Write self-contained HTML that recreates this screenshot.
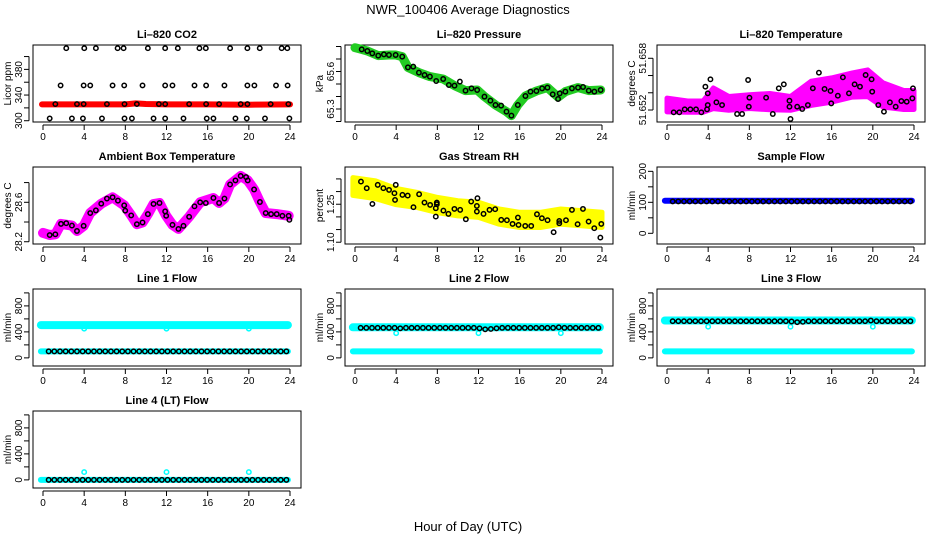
<!DOCTYPE html>
<html><head><meta charset="utf-8"><style>
html,body{margin:0;padding:0;background:#fff}
svg{display:block;font-family:"Liberation Sans",Arial,sans-serif}
</style></head><body>
<svg id="chart" width="936" height="540" viewBox="0 0 936 540" xmlns="http://www.w3.org/2000/svg">
<text x="468" y="14" font-size="13" text-anchor="middle">NWR_100406  Average Diagnostics</text>
<text x="468" y="531" font-size="13" text-anchor="middle">Hour of Day (UTC)</text>
</svg>
<script>
// ---------- data ----------
const xTicks = [0,4,8,12,16,20,24];

const co2Hours = [2.26,4.01,5.14,7.25,7.83,10.19,11.87,13.10,15.20,15.82,18.18,19.86,21.06,23.19,23.74,
 1.71,3.95,4.59,6.76,7.89,9.67,11.87,12.58,14.72,15.85,17.63,19.86,20.54,22.64,23.77,
 1.20,3.30,3.95,6.21,7.92,9.12,11.26,11.87,14.20,15.85,17.11,19.21,19.86,22.12,23.84,
 0.65,2.81,3.88,5.73,7.92,8.64,10.74,11.87,13.65,15.91,16.56,18.70,19.80,21.57,23.94];
const co2Values = [413,413,413,413,413,413,413,413,413,413,413,413,413,413,413,
 355,355,355,355,355,355,355,355,355,355,355,355,355,355,355,
 326,326,326,326,326,326,326,326,326,326,326,326,326,326,326,
 303.6,303.6,303.6,303.6,303.6,303.6,303.6,303.6,303.6,303.6,303.6,303.6,303.6,303.6,303.6];
const co2BandHours = [-0.1,4,8,9,10,12,16,20,24];
const co2BandValues = [325.5,325.5,325.5,327,326,325.5,325.5,325,325.5];

const pressHours = [0.65,1.20,1.68,2.26,2.81,3.30,3.95,4.59,5.14,5.66,6.21,6.76,7.28,7.89,8.57,9.12,9.67,10.19,10.74,11.32,11.87,12.58,13.16,13.65,14.20,14.72,15.20,15.82,16.56,17.05,17.63,18.18,18.70,19.21,19.73,19.89,20.44,21.08,21.67,22.16,22.71,23.26,23.87];
const pressValues = [65.777,65.764,65.745,65.727,65.737,65.732,65.732,65.719,65.633,65.639,65.591,65.572,65.559,65.524,65.540,65.492,65.487,65.519,65.447,65.465,65.452,65.399,65.367,65.332,65.327,65.279,65.247,65.332,65.404,65.439,65.444,65.465,65.471,65.417,65.380,65.425,65.439,65.465,65.471,65.476,65.447,65.439,65.452];
const pressBandHours = [0,0.65,1.2,2.26,3.3,3.95,4.59,5.14,6.21,7.28,8.57,9.67,10.74,11.87,12.58,13.65,14.72,15.20,15.82,16.56,17.63,18.70,19.73,20.44,21.67,22.71,23.87];
const pressBandValues = [65.79,65.777,65.764,65.727,65.732,65.732,65.719,65.633,65.591,65.559,65.540,65.487,65.447,65.452,65.399,65.332,65.279,65.247,65.332,65.404,65.444,65.471,65.395,65.439,65.471,65.447,65.452];

const tempHours = [0.65,1.20,1.72,2.27,2.82,3.34,3.89,3.96,3.96,3.73,4.22,4.80,5.35,6.81,7.30,7.88,7.95,8.01,9.63,10.28,10.86,11.35,11.90,11.90,12.0,12.65,13.14,13.69,14.17,14.76,15.31,15.89,15.96,16.60,17.09,17.68,18.23,18.75,19.30,19.88,19.94,20.53,21.08,21.66,22.22,22.77,23.29,23.90,23.84];
const tempValues = [51.65173,51.65173,51.65208,51.65208,51.65208,51.65173,51.65208,51.65258,51.65394,51.65471,51.65556,51.65289,51.65258,51.65154,51.65154,51.65548,51.65239,51.65343,51.65343,51.65154,51.65452,51.65498,51.65308,51.65239,51.65096,51.65239,51.65212,51.65258,51.65452,51.65633,51.65444,51.65421,51.65277,51.65366,51.65579,51.65394,51.65498,51.65471,51.65606,51.65556,51.65413,51.65258,51.65181,51.65289,51.65239,51.65304,51.65297,51.65452,51.65335];
const tempCloudHours = [0,2,3.5,4.5,6,8,10,12,14,16,18,19.5,21,23,24];
const tempCloudCenter = [51.65258,51.65239,51.65239,51.65335,51.65277,51.65297,51.65297,51.65277,51.65394,51.65432,51.6549,51.6551,51.65374,51.65316,51.65316];
const tempCloudSpread = [0.00080,0.00065,0.00065,0.00120,0.00080,0.00080,0.00095,0.00080,0.00140,0.00140,0.00140,0.00155,0.00140,0.00110,0.00110];

const ambHours = [0.65,1.20,1.75,2.26,2.81,3.30,3.95,4.59,5.14,5.66,6.21,6.76,7.28,7.89,7.99,8.57,9.12,9.67,10.19,10.74,11.32,11.87,11.97,12.58,13.16,13.65,14.20,14.72,15.27,15.82,16.56,17.11,17.63,18.18,18.70,19.21,19.73,19.89,20.51,21.08,21.64,22.16,22.71,23.26,23.87,23.94];
const ambValues = [28.268,28.275,28.381,28.388,28.364,28.309,28.361,28.491,28.518,28.586,28.638,28.651,28.617,28.569,28.515,28.467,28.378,28.395,28.480,28.583,28.593,28.508,28.463,28.371,28.330,28.361,28.453,28.559,28.600,28.593,28.644,28.593,28.638,28.781,28.822,28.867,28.856,28.822,28.730,28.603,28.491,28.480,28.480,28.463,28.463,28.422];
const ambBandHours = [0,0.65,1.20,1.75,2.81,3.30,3.95,4.59,5.66,6.76,7.89,8.57,9.12,9.67,10.19,10.74,11.32,11.97,12.58,13.16,14.20,15.27,16.56,17.11,17.63,18.18,19.21,19.89,20.51,21.08,21.64,22.71,23.87];
const ambBandValues = [28.29,28.268,28.275,28.381,28.364,28.309,28.361,28.491,28.586,28.651,28.569,28.467,28.378,28.395,28.480,28.583,28.593,28.463,28.371,28.330,28.453,28.600,28.644,28.593,28.638,28.781,28.867,28.822,28.730,28.603,28.491,28.480,28.463];

const rhHours = [0.58,1.14,1.69,2.21,2.76,3.31,3.83,3.96,3.89,4.61,5.12,5.68,6.23,6.75,7.30,7.85,7.85,7.95,7.95,8.59,9.08,9.66,10.22,10.77,11.29,11.84,11.90,11.84,12.49,13.07,13.62,14.21,14.76,15.31,15.83,15.89,16.54,17.12,17.68,18.16,18.71,19.30,19.85,19.85,20.50,21.08,21.63,22.15,22.70,23.25,23.84,23.93];
const rhValues = [1.3395,1.3132,1.2513,1.3264,1.3132,1.3066,1.2935,1.3264,1.2671,1.2869,1.2842,1.2382,1.2895,1.2566,1.2474,1.2342,1.2013,1.2566,1.2500,1.2250,1.2119,1.2316,1.2277,1.1908,1.2606,1.2434,1.2737,1.2211,1.2119,1.2277,1.2303,1.1882,1.1869,1.1724,1.1974,1.1684,1.1645,1.1645,1.2105,1.1948,1.1869,1.1395,1.1842,1.1750,1.1869,1.2277,1.1711,1.2316,1.1816,1.1553,1.1184,1.1724];
const rhCloudHours = [-0.2,2,4,6,8,10,12,14,16,18,20,22,24];
const rhCloudCenter = [1.320,1.307,1.280,1.267,1.247,1.234,1.228,1.201,1.188,1.188,1.201,1.195,1.188];
const rhCloudSpread = [0.035,0.035,0.032,0.030,0.030,0.030,0.030,0.030,0.030,0.030,0.030,0.030,0.030];

const flowHours = [0.55,1.1,1.65,2.2,2.75,3.3,3.85,4.4,4.95,5.5,6.05,6.6,7.15,7.7,8.25,8.8,9.35,9.9,10.45,11.0,11.55,12.1,12.65,13.2,13.75,14.3,14.85,15.4,15.95,16.5,17.05,17.6,18.15,18.7,19.25,19.8,20.35,20.9,21.45,22.0,22.55,23.1,23.65];
const sampleValues = [103,103,103,103,103,103,103,103,103,103,103,103,103,103,103,103,103,103,103,103,103,103,103,103,103,103,103,103,103,103,103,103,103,103,103,103,103,103,103,103,103,103,103];
const line1Values = [100,100,100,100,100,100,100,100,100,100,100,100,100,100,100,100,100,100,100,100,100,100,100,100,100,100,100,100,100,100,100,100,100,100,100,100,100,100,100,100,100,100,100];
const line2Values = [462,462,462,462,462,462,462,455,462,462,462,462,462,462,462,462,462,462,462,462,462,455,440,445,455,462,462,462,462,462,462,462,462,462,462,470,462,462,462,462,462,462,462];
const line3Values = [565,565,565,565,565,565,565,565,565,565,565,565,565,565,565,565,565,565,565,565,565,560,550,555,565,565,565,565,565,565,565,565,565,565,565,575,565,565,565,565,565,565,565];
const line4Values = [0,0,0,0,0,0,0,0,0,0,0,0,0,0,0,0,0,0,0,0,0,0,0,0,0,0,0,0,0,0,0,0,0,0,0,0,0,0,0,0,0,0,0];
const bandHours = [-0.2,23.8];
const sampleBandLevels = [105];
const line1BandLevels = [505,100];
const line2BandLevels = [470,100];
const line3BandLevels = [575,100];
const line4BandLevels = [0];
const outlierHours = [4,12,20];
const line1Outliers = [450,450,450];
const line2Outliers = [380,380,380];
const line3Outliers = [480,480,480];
const line4Outliers = [120,120,120];

// ---------- drawing ----------
const NS = "http://www.w3.org/2000/svg";
const svg = document.getElementById('chart');
function mk(tag, attrs, parent){
  const e = document.createElementNS(NS, tag);
  for (const k in attrs) e.setAttribute(k, attrs[k]);
  (parent||svg).appendChild(e);
  return e;
}
function panel(col, row, title, ytitle, ymin, ymax, yTicks, yLabels, name){
  const cx = col*312, top = 45 + row*122, bot = 122 + row*122;
  const g = mk('g', {});
  
  
  const X = h => cx + 43 + h*(247/24);
  const Y = v => bot - (v - ymin)/(ymax - ymin)*(bot - top);
  const t = mk('text', {x: cx+167, y: top-7, 'font-size': 11, 'font-weight': 'bold', 'text-anchor': 'middle'}, g);
  t.textContent = title;
  
  
  const box = mk('rect', {x: cx+33, y: top, width: 268, height: bot-top, fill: 'none', stroke: '#000', 'stroke-width': 1}, g);
  
  
  const xa = mk('g', {}, g);
  
  
  mk('line', {x1: X(0), x2: X(24), y1: bot+3, y2: bot+3, stroke: '#000'}, xa);
  xTicks.forEach(v => {
    mk('line', {x1: X(v), x2: X(v), y1: bot+3, y2: bot+8, stroke: '#000'}, xa);
    const l = mk('text', {x: X(v), y: bot+18, 'font-size': 10, 'text-anchor': 'middle'}, xa);
    l.textContent = v;
  });
  const ya = mk('g', {}, g);
  
  
  const yt = yTicks.filter(v => Y(v) >= top-1 && Y(v) <= bot+1);
  mk('line', {x1: cx+29, x2: cx+29, y1: Y(yt[0]), y2: Y(yt[yt.length-1]), stroke: '#000'}, ya);
  yt.forEach(v => mk('line', {x1: cx+24, x2: cx+29, y1: Y(v), y2: Y(v), stroke: '#000'}, ya));
  yLabels.forEach(v => {
    const l = mk('text', {x: 0, y: 0, 'font-size': 10, 'text-anchor': 'middle', transform: `translate(${cx+22},${Y(v)}) rotate(-90)`}, ya);
    l.textContent = v;
  });
  const ylab = mk('text', {x: 0, y: 0, 'font-size': 10, 'text-anchor': 'middle', transform: `translate(${cx+11},${(top+bot)/2}) rotate(-90)`}, g);
  ylab.textContent = ytitle;
  
  
  return {g, X, Y};
}
function points(p, hs, vs, color, name){
  const g = mk('g', {}, p.g);
  
  
  hs.forEach((h, i) => mk('circle', {cx: p.X(h), cy: p.Y(vs[i]), r: 2.2, fill: 'none', stroke: color, 'stroke-width': 1.5}, g));
}
function band(p, hs, vs, color, w, name){
  const d = hs.map((h, i) => (i ? 'L' : 'M') + p.X(h).toFixed(1) + ',' + p.Y(vs[i]).toFixed(1)).join('');
  const e = mk('path', {d, fill: 'none', stroke: color, 'stroke-width': w, 'stroke-linejoin': 'round', 'stroke-linecap': 'round'}, p.g);
  
  
}
function cloud(p, hs, cs, ss, color, name){
  const up = hs.map((h, i) => p.X(h).toFixed(1) + ',' + p.Y(cs[i] + ss[i]).toFixed(1));
  const dn = hs.map((h, i) => p.X(h).toFixed(1) + ',' + p.Y(cs[i] - ss[i]).toFixed(1)).reverse();
  const e = mk('polygon', {points: up.concat(dn).join(' '), fill: color, stroke: color, 'stroke-width': 5, 'stroke-linejoin': 'round'}, p.g);
  
  
}
function rng(a, b, s){ const r = []; for (let v = a; v <= b + s/1000; v += s) r.push(+v.toFixed(6)); return r; }

let p = panel(0, 0, 'Li–820 CO2', 'Licor ppm', 298, 418, rng(300,400,20), [300,340,380], 'co2');
band(p, co2BandHours, co2BandValues, '#ff0000', 6, 'co2-band');
points(p, co2Hours, co2Values, '#000', 'co2-points');

p = panel(1, 0, 'Li–820 Pressure', 'kPa', 65.196, 65.812, rng(65.2,65.8,0.1), [65.3, 65.6], 'pressure');
band(p, pressBandHours, pressBandValues, '#22cc22', 9, 'pressure-band');
points(p, pressHours, pressValues, '#000', 'pressure-points');

p = panel(2, 0, 'Li–820 Temperature', 'degrees C', 51.65061, 51.65954, rng(51.652,51.658,0.002), [51.652, 51.658], 'li820-temperature');
cloud(p, tempCloudHours, tempCloudCenter, tempCloudSpread, '#ff00ff', 'temperature-cloud');
points(p, tempHours, tempValues, '#000', 'temperature-points');

p = panel(0, 1, 'Ambient Box Temperature', 'degrees C', 28.177, 28.958, rng(28.2,28.8,0.2), [28.2, 28.6], 'ambient-temperature');
band(p, ambBandHours, ambBandValues, '#ff00ff', 10, 'ambient-band');
points(p, ambHours, ambValues, '#000', 'ambient-points');

p = panel(1, 1, 'Gas Stream RH', 'percent', 1.093, 1.397, rng(1.10,1.35,0.05), ['1.10','1.25'], 'gas-stream-rh');
cloud(p, rhCloudHours, rhCloudCenter, rhCloudSpread, '#ffff00', 'rh-cloud');
points(p, rhHours, rhValues, '#000', 'rh-points');

p = panel(2, 1, 'Sample Flow', 'ml/min', -34.5, 214, rng(0,200,50), [0,100,200], 'sample-flow');
sampleBandLevels.forEach(v => band(p, bandHours, bandHours.map(() => v), '#0000ff', 6, 'sample-band'));
points(p, flowHours, sampleValues, '#000', 'sample-points');

const lines = [
  [0, 2, 'Line 1 Flow', line1BandLevels, line1Outliers, line1Values, 'line1-flow'],
  [1, 2, 'Line 2 Flow', line2BandLevels, line2Outliers, line2Values, 'line2-flow'],
  [2, 2, 'Line 3 Flow', line3BandLevels, line3Outliers, line3Values, 'line3-flow'],
  [0, 3, 'Line 4 (LT) Flow', line4BandLevels, line4Outliers, line4Values, 'line4-flow']
];
lines.forEach(L => {
  const q = panel(L[0], L[1], L[2], 'ml/min', -125, 1060, rng(0,1000,200), [0,400,800], L[6]);
  L[3].forEach((v, i) => band(q, bandHours, bandHours.map(() => v), '#00ffff', i === 0 && v > 200 ? 8 : 6, L[6] + '-band'));
  points(q, outlierHours, L[4], '#00ffff', L[6] + '-outliers');
  points(q, flowHours, L[5], '#000', L[6] + '-points');
});
</script>
</body></html>
